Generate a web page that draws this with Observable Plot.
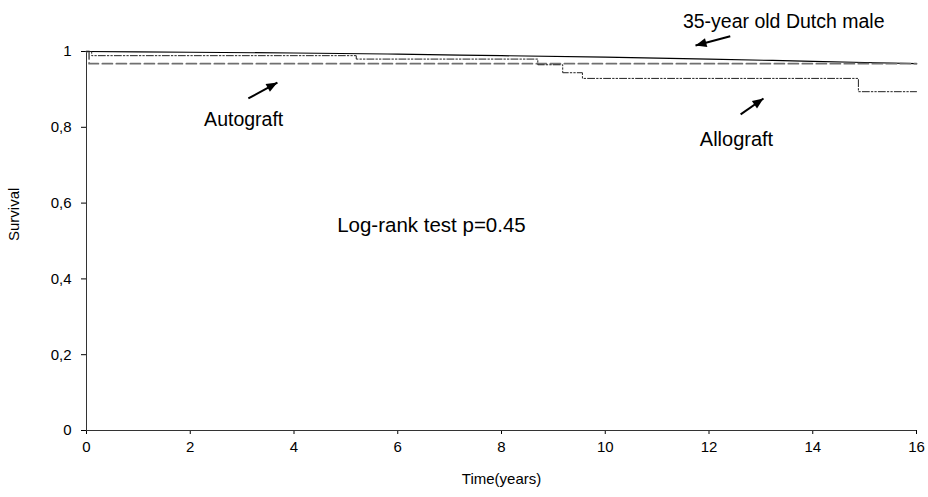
<!DOCTYPE html>
<html>
<head>
<meta charset="utf-8">
<script src="https://cdn.jsdelivr.net/npm/d3@7"></script>
<script src="https://cdn.jsdelivr.net/npm/@observablehq/plot@0.6"></script>
<style>
  html, body { margin: 0; padding: 0; background: #fff; }
  svg { font-family: "Liberation Sans", Arial, sans-serif; }
</style>
</head>
<body>
<div id="chart"></div>
<script>
// Dutch 35-year-old male expected survival
const dutchT = [0, 2, 4, 6, 8, 10, 12, 14, 16];
const dutchS = [1.0, 0.998, 0.996, 0.993, 0.989, 0.985, 0.980, 0.974, 0.968];
// Autograft Kaplan-Meier
const autoT = [0, 0.05, 16];
const autoS = [1.0, 0.968, 0.968];
// Allograft Kaplan-Meier
const alloT = [0, 0.1, 5.2, 8.7, 9.18, 9.56, 14.88, 16];
const alloS = [1.0, 0.989, 0.980, 0.965, 0.944, 0.929, 0.894, 0.894];

const xTicks = [0, 2, 4, 6, 8, 10, 12, 14, 16];
const yTicks = [0, 0.2, 0.4, 0.6, 0.8, 1];

// annotations (data units)
const labels = [
  {t: 13.44, s: 1.079, text: "35-year old Dutch male", size: 19.5},
  {t: 3.03, s: 0.821, text: "Autograft", size: 19.5},
  {t: 12.53, s: 0.768, text: "Allograft", size: 20},
  {t: 6.65, s: 0.541, text: "Log-rank test p=0.45", size: 20.5}
];
const arrows = [
  {t1: 12.41, s1: 1.040, t2: 11.74, s2: 1.016},
  {t1: 3.12, s1: 0.876, t2: 3.68, s2: 0.918},
  {t1: 12.61, s1: 0.834, t2: 13.05, s2: 0.876}
];

const dutch = dutchT.map((t, i) => ({t, s: dutchS[i]}));
const auto = autoT.map((t, i) => ({t, s: autoS[i]}));
const allo = alloT.map((t, i) => ({t, s: alloS[i]}));

const fmtY = d => (d === 0 || d === 1) ? String(d) : d.toFixed(1).replace(".", ",");

function filledArrow(color, context) {
  const doc = (context && context.document) || document;
  const ns = "http://www.w3.org/2000/svg";
  const m = doc.createElementNS(ns, "marker");
  m.setAttribute("viewBox", "-12 -6 13 12");
  m.setAttribute("markerWidth", 13);
  m.setAttribute("markerHeight", 12);
  m.setAttribute("markerUnits", "userSpaceOnUse");
  m.setAttribute("orient", "auto");
  const p = doc.createElementNS(ns, "path");
  p.setAttribute("d", "M-11,-4.5L0,0L-11,4.5Z");
  p.setAttribute("fill", color);
  p.setAttribute("stroke", "none");
  m.appendChild(p);
  return m;
}

function build(useMarker) {
  const arrowMark = useMarker
    ? Plot.link(arrows, {x1: "t1", y1: "s1", x2: "t2", y2: "s2", stroke: "#000", strokeWidth: 2, markerEnd: filledArrow})
    : Plot.arrow(arrows, {x1: "t1", y1: "s1", x2: "t2", y2: "s2", stroke: "#000", strokeWidth: 2, headLength: 10, headAngle: 50});
  return Plot.plot({
    width: 928,
    height: 497,
    marginLeft: 86,
    marginRight: 12,
    marginTop: 51,
    marginBottom: 67,
    style: {fontFamily: "Liberation Sans, Arial, sans-serif", fontSize: "15px", color: "#000", background: "#fff"},
    x: {domain: [0, 16], ticks: xTicks, tickSize: 4, tickPadding: 7, label: null},
    y: {domain: [0, 1], ticks: yTicks, tickSize: 5, tickPadding: 10, tickFormat: fmtY, label: null},
    marks: [
      Plot.ruleX([0], {stroke: "#333"}),
      Plot.ruleY([0], {stroke: "#333"}),
      Plot.line(dutch, {x: "t", y: "s", stroke: "#000", strokeWidth: 1.2, curve: "monotone-x"}),
      Plot.line(auto, {x: "t", y: "s", stroke: "#707070", strokeWidth: 1.8, strokeDasharray: "10,4", curve: "step-after"}),
      Plot.line(allo, {x: "t", y: "s", stroke: "#222", strokeWidth: 1, strokeDasharray: "7,2,1.5,2,1.5,2", curve: "step-after"}),
      arrowMark,
      Plot.text(labels, {x: "t", y: "s", text: "text", fontSize: "size", fill: "#000"}),
      Plot.text(["Survival"], {frameAnchor: "left", dx: -72, rotate: -90, fontSize: 15, fill: "#000"}),
      Plot.text(["Time(years)"], {frameAnchor: "bottom", dy: 53, fontSize: 15, fill: "#000"})
    ]
  });
}

let chart;
try { chart = build(true); } catch (e) { chart = build(false); }
document.getElementById("chart").appendChild(chart);
</script>
</body>
</html>
